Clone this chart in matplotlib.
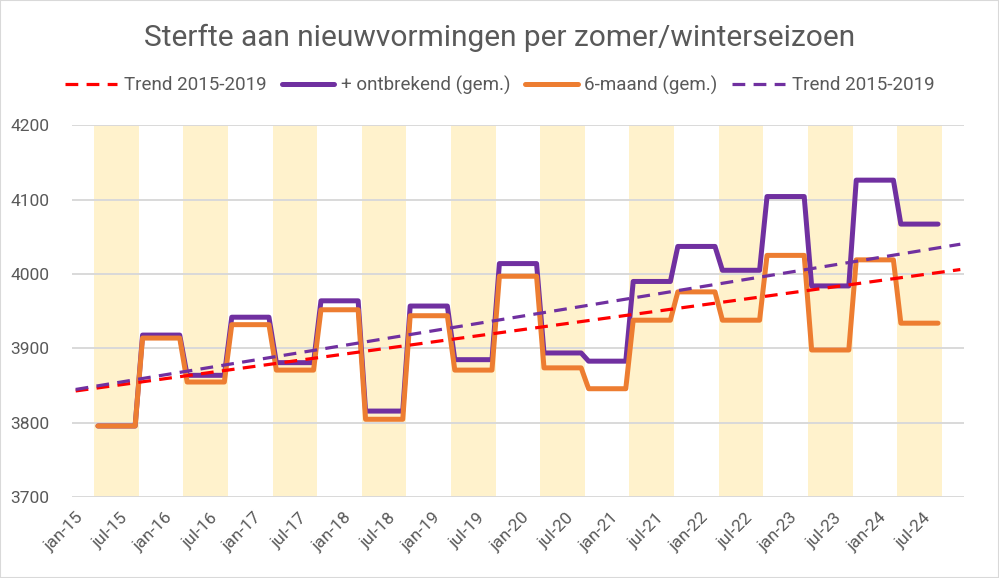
import matplotlib
matplotlib.use("Agg")
import matplotlib.pyplot as plt
from matplotlib.patches import Rectangle
import numpy as np

plt.rcParams['font.family'] = ['Roboto', 'DejaVu Sans']

# ---- data ----
years = list(range(2015, 2025))
month_names = ["jan", "feb", "mrt", "apr", "mei", "jun", "jul", "aug", "sep", "okt", "nov", "dec"]
months = [f"{m}-{str(y)[2:]}" for y in years for m in month_names]  # jan-15 .. dec-24

# seasonal averages (summer apr-sep, winter oct-mar), starting apr-15, ending sep-24
season_start = "apr-15"
season_len = 6
six_month_avg = [3796, 3914, 3855, 3932, 3871, 3952, 3805, 3944, 3871, 3997,
                 3874, 3846, 3938, 3976, 3938, 4025, 3898, 4019, 3934]
plus_missing_avg = [3796, 3918, 3864, 3942, 3881, 3964, 3816, 3957, 3885, 4014,
                    3894, 3883, 3990, 4037, 4005, 4104, 3984, 4126, 4067]

# trend lines 2015-2019 (start jan-15, end dec-24)
trend_red = [3843, 4006]
trend_purple = [3845, 4040]

summer_months = ["apr", "mei", "jun", "jul", "aug", "sep"]
tick_labels = [m for m in months if m.startswith("jan") or m.startswith("jul")]

# ---- figure ----
fig = plt.figure(figsize=(9.99, 5.78), dpi=100)
ax = fig.add_axes([0.072, 0.1393, 0.893, 0.6444])

x = np.arange(len(months))
start = months.index(season_start)

def expand(vals):
    out = []
    for v in vals:
        out += [v] * season_len
    return out

orange_m = expand(six_month_avg)
purple_m = expand(plus_missing_avg)
xs = x[start:start + len(orange_m)]

# summer bands
for i, m in enumerate(months):
    if m.startswith("apr"):
        ax.axvspan(i - 0.5, i + len(summer_months) - 0.5, color="#FFF2CC", lw=0, zorder=0)

for v in range(3700, 4201, 100):
    ax.axhline(v, color="#D9D9D9", lw=1.4, zorder=1)

GRAY = "#595959"
l1, = ax.plot([x[0], x[-1]], trend_red, color="#FF0000", lw=2.3, dashes=(4, 2.6),
              zorder=4, label="Trend 2015-2019")
l2, = ax.plot(xs, purple_m, color="#7030A0", lw=3.6, zorder=3,
              solid_joinstyle="round", solid_capstyle="round", label="+ ontbrekend (gem.)")
l3, = ax.plot(xs, orange_m, color="#ED7D31", lw=3.6, zorder=3.5,
              solid_joinstyle="round", solid_capstyle="round", label="6-maand (gem.)")
l4, = ax.plot([x[0], x[-1]], trend_purple, color="#7030A0", lw=2.3, dashes=(4, 2.6),
              zorder=4, label="Trend 2015-2019")

ax.set_xlim(-0.5, len(months) - 0.5)
ax.set_ylim(3700, 4200)
ax.set_yticks(range(3700, 4201, 100))
ax.set_xticks([months.index(t) for t in tick_labels])
ax.set_xticklabels(tick_labels, rotation=45, ha="right", rotation_mode="anchor")
ax.tick_params(axis="both", length=0, colors=GRAY, labelsize=12.5)
ax.tick_params(axis="x", pad=9)
ax.tick_params(axis="y", pad=16)
for s in ax.spines.values():
    s.set_visible(False)

fig.text(0.5, 0.934, "Sterfte aan nieuwvormingen per zomer/winterseizoen",
         ha="center", va="center", fontsize=21.5, color=GRAY)

fig.legend(handles=[l1, l2, l3, l4], loc="center", bbox_to_anchor=(0.5, 0.853),
           ncol=4, frameon=False, fontsize=13.5, handlelength=2.8, handletextpad=0.35,
           columnspacing=0.8, labelcolor=GRAY)

fig.patches.append(Rectangle((0, 0), 1, 1, transform=fig.transFigure, fill=False,
                             edgecolor="#D9D9D9", lw=1.5, zorder=10))

fig.savefig("out.png", dpi=100)
